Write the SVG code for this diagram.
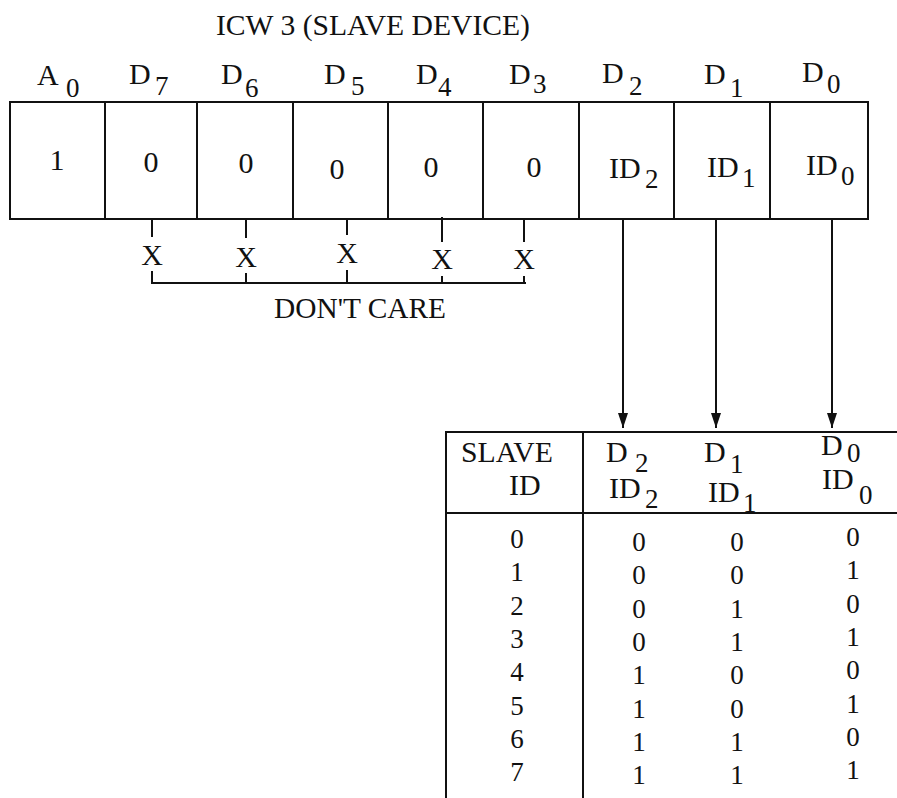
<svg xmlns="http://www.w3.org/2000/svg" width="897" height="798" viewBox="0 0 897 798">
<style>
  .t { font-family: "Liberation Serif", "Times New Roman", serif; fill: #111; }
  .m { font-size: 30px; }
  .s { font-size: 27px; }
  .b { font-size: 27px; text-anchor: middle; }
  .v { font-size: 30px; text-anchor: middle; }
  .cell { fill: #fff; stroke: #111; stroke-width: 2; }
  .ln { stroke: #111; stroke-width: 2; fill: none; }
</style>
<defs>
  <marker id="ah" viewBox="0 0 15 10" markerWidth="15" markerHeight="10" markerUnits="userSpaceOnUse" refX="15" refY="5" orient="auto">
    <path d="M0,0 L15,5 L0,10 z" fill="#111"/>
  </marker>
</defs>
<rect width="897" height="798" fill="#fff"/>

<text id="title" class="t" x="216" y="35" font-size="30" textLength="314" lengthAdjust="spacingAndGlyphs">ICW 3 (SLAVE DEVICE)</text>

<g id="cell-A0">
  <rect class="cell" x="10" y="102" width="95" height="117"/>
  <text class="t m" x="37" y="85">A</text><text class="t s" x="66" y="97">0</text>
  <text class="t v" x="57" y="170">1</text>
</g>
<g id="cell-D7">
  <rect class="cell" x="105" y="102" width="92" height="117"/>
  <text class="t m" x="129" y="84">D</text><text class="t s" x="155" y="95">7</text>
  <text class="t v" x="151" y="172">0</text>
</g>
<g id="cell-D6">
  <rect class="cell" x="197" y="102" width="96" height="117"/>
  <text class="t m" x="221" y="84">D</text><text class="t s" x="245" y="97">6</text>
  <text class="t v" x="246" y="173">0</text>
</g>
<g id="cell-D5">
  <rect class="cell" x="293" y="102" width="95" height="117"/>
  <text class="t m" x="324" y="84">D</text><text class="t s" x="351" y="95">5</text>
  <text class="t v" x="337" y="179">0</text>
</g>
<g id="cell-D4">
  <rect class="cell" x="388" y="102" width="95" height="117"/>
  <text class="t m" x="416" y="84">D</text><text class="t s" x="438" y="96">4</text>
  <text class="t v" x="431" y="177">0</text>
</g>
<g id="cell-D3">
  <rect class="cell" x="483" y="102" width="96" height="117"/>
  <text class="t m" x="509" y="84">D</text><text class="t s" x="533" y="93">3</text>
  <text class="t v" x="534" y="177">0</text>
</g>
<g id="cell-D2">
  <rect class="cell" x="579" y="102" width="95" height="117"/>
  <text class="t m" x="602" y="83">D</text><text class="t s" x="629" y="95">2</text>
  <text class="t m" x="609" y="178">ID</text><text class="t s" x="645" y="188">2</text>
</g>
<g id="cell-D1">
  <rect class="cell" x="674" y="102" width="96" height="117"/>
  <text class="t m" x="704" y="84">D</text><text class="t s" x="730" y="97">1</text>
  <text class="t m" x="707" y="177">ID</text><text class="t s" x="742" y="187">1</text>
</g>
<g id="cell-D0">
  <rect class="cell" x="770" y="102" width="98" height="117"/>
  <text class="t m" x="802" y="82">D</text><text class="t s" x="827" y="93">0</text>
  <text class="t m" x="806" y="175">ID</text><text class="t s" x="841" y="185">0</text>
</g>

<g id="dont-care">
  <text class="t v" x="152" y="265">X</text>
  <text class="t v" x="246" y="267">X</text>
  <text class="t v" x="347" y="263">X</text>
  <text class="t v" x="442" y="269">X</text>
  <text class="t v" x="524" y="269">X</text>
  <text class="t m" x="274" y="318" textLength="172" lengthAdjust="spacingAndGlyphs">DON'T CARE</text>
</g>

<g id="connectors">
  <path class="ln" d="M152,219 V237 M246,219 V238 M347,219 V235 M442,217 V242 M524,219 V242"/>
  <path class="ln" d="M152,271 V283 H526 M246,273 V283 M347,270 V283 M442,276 V283 M524,276 V283"/>
  <line class="ln" x1="623" y1="219" x2="623" y2="428" marker-end="url(#ah)"/>
  <line class="ln" x1="716" y1="219" x2="716" y2="428" marker-end="url(#ah)"/>
  <line class="ln" x1="832" y1="219" x2="832" y2="428" marker-end="url(#ah)"/>
</g>

<g id="table">
  <path class="ln" d="M446,798 V432 H897 M583,432 V798 M446,513 H897"/>
  <text class="t m" x="461" y="462" textLength="92" lengthAdjust="spacingAndGlyphs">SLAVE</text>
  <text class="t m" x="509" y="495">ID</text>
  <text class="t m" x="606" y="462">D</text><text class="t s" x="635" y="472">2</text>
  <text class="t m" x="609" y="498">ID</text><text class="t s" x="645" y="508">2</text>
  <text class="t m" x="704" y="462">D</text><text class="t s" x="730" y="473">1</text>
  <text class="t m" x="708" y="502">ID</text><text class="t s" x="743" y="512">1</text>
  <text class="t m" x="821" y="455">D</text><text class="t s" x="847" y="462">0</text>
  <text class="t m" x="822" y="489">ID</text><text class="t s" x="859" y="504">0</text>

  <g class="t b">
    <text x="517" y="548">0</text><text x="517" y="581">1</text><text x="517" y="615">2</text><text x="517" y="648">3</text>
    <text x="517" y="681">4</text><text x="517" y="715">5</text><text x="517" y="748">6</text><text x="517" y="781">7</text>

    <text x="639" y="551">0</text><text x="639" y="584">0</text><text x="639" y="618">0</text><text x="639" y="651">0</text>
    <text x="639" y="684">1</text><text x="639" y="718">1</text><text x="639" y="751">1</text><text x="639" y="784">1</text>

    <text x="737" y="551">0</text><text x="737" y="584">0</text><text x="737" y="618">1</text><text x="737" y="651">1</text>
    <text x="737" y="684">0</text><text x="737" y="718">0</text><text x="737" y="751">1</text><text x="737" y="784">1</text>

    <text x="853" y="546">0</text><text x="853" y="579">1</text><text x="853" y="613">0</text><text x="853" y="646">1</text>
    <text x="853" y="679">0</text><text x="853" y="713">1</text><text x="853" y="746">0</text><text x="853" y="779">1</text>
  </g>
</g>
</svg>
